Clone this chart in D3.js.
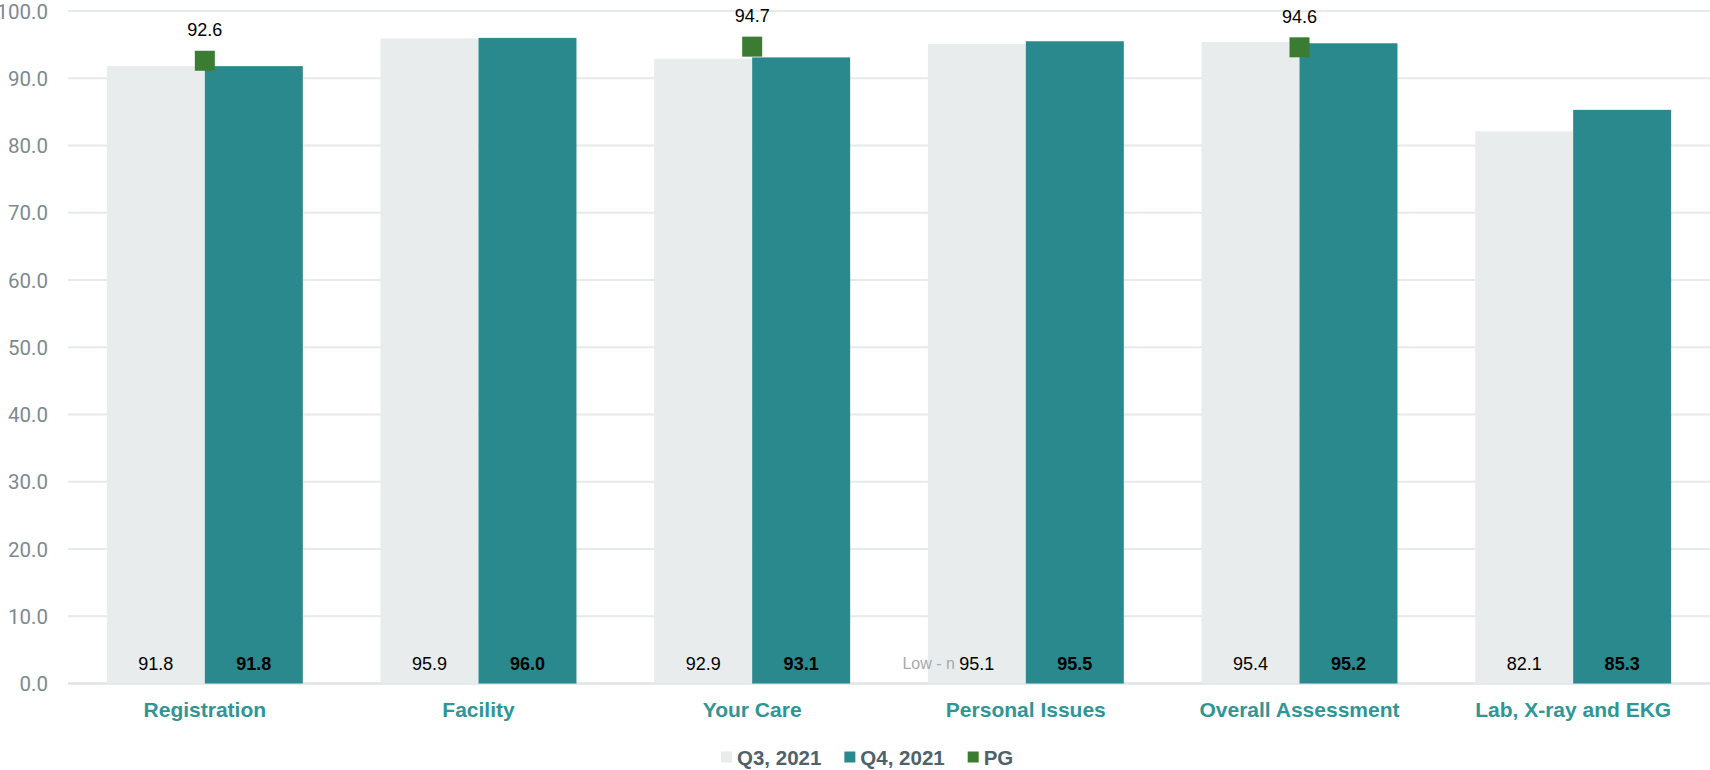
<!DOCTYPE html>
<html>
<head>
<meta charset="utf-8">
<script src="https://cdn.jsdelivr.net/npm/d3@7"></script>
<style>
  html, body { margin: 0; padding: 0; background: #fff; }
  svg { display: block; }
</style>
</head>
<body>
<svg id="chart" width="1710" height="770"></svg>
<script>
// Survey section scores by quarter, with the PG benchmark where available
const categories = ["Registration", "Facility", "Your Care", "Personal Issues", "Overall Assessment", "Lab, X-ray and EKG"];
const q3Values = [91.8, 95.9, 92.9, 95.1, 95.4, 82.1];
const q4Values = [91.8, 96.0, 93.1, 95.5, 95.2, 85.3];
const pgValues = [92.6, null, 94.7, null, 94.6, null];
const seriesNames = ["Q3, 2021", "Q4, 2021", "PG"];
const yTicks = [0, 10, 20, 30, 40, 50, 60, 70, 80, 90, 100];

const colors = { q3: "#e8ecec", q4: "#2a898d", pg: "#3a7d32" };

const svg = d3.select("#chart");
const plotLeft = 68, plotRight = 1710, plotTop = 11, plotBottom = 683.5;

const x = d3.scaleBand().domain(categories).range([plotLeft, plotRight])
  .paddingInner(0.284).paddingOuter(0.142);
const xs = d3.scaleBand().domain(["q3", "q4"]).range([0, x.bandwidth()]);
const y = d3.scaleLinear().domain([0, 100]).range([plotBottom, plotTop]);

// horizontal gridlines
svg.append("g").selectAll("line").data(yTicks).join("line")
  .attr("x1", plotLeft).attr("x2", plotRight)
  .attr("y1", d => y(d)).attr("y2", d => y(d))
  .attr("stroke", d => d === 0 ? "#dfe4e4" : "#e6eaea")
  .attr("stroke-width", d => d === 0 ? 2.5 : 2);

// y axis tick labels
const yAxis = d3.axisLeft(y).tickValues(yTicks).tickFormat(d3.format(".1f")).tickSize(0).tickPadding(0);
const gy = svg.append("g").attr("transform", "translate(48,0.5)").call(yAxis);
gy.select(".domain").remove();
gy.selectAll("text")
  .attr("font-family", "Roboto, sans-serif")
  .attr("font-weight", 400)
  .attr("font-size", 20.5)
  .attr("fill", "#7b8a92");

// bars
const groups = svg.append("g").selectAll("g").data(categories).join("g")
  .attr("transform", d => `translate(${x(d)},0)`);

groups.append("rect")
  .attr("x", xs("q3")).attr("width", xs.bandwidth())
  .attr("y", (d, i) => y(q3Values[i])).attr("height", (d, i) => y(0) - y(q3Values[i]))
  .attr("fill", colors.q3);

groups.append("rect")
  .attr("x", xs("q4")).attr("width", xs.bandwidth())
  .attr("y", (d, i) => y(q4Values[i])).attr("height", (d, i) => y(0) - y(q4Values[i]))
  .attr("fill", colors.q4);

// stray data label note
svg.append("text")
  .attr("x", x("Personal Issues") + xs("q3") + 27).attr("y", 669)
  .attr("text-anchor", "end")
  .attr("font-family", "Liberation Sans, Arial, sans-serif")
  .attr("font-size", 16)
  .attr("fill", "#a3abae")
  .text("Low - n");

// value labels inside the bars, near the base
groups.append("text")
  .attr("x", xs("q3") + xs.bandwidth() / 2).attr("y", 669.5)
  .attr("text-anchor", "middle")
  .attr("font-family", "Liberation Sans, Arial, sans-serif")
  .attr("font-size", 18)
  .attr("fill", "#000")
  .text((d, i) => q3Values[i].toFixed(1));

groups.append("text")
  .attr("x", xs("q4") + xs.bandwidth() / 2).attr("y", 669.5)
  .attr("text-anchor", "middle")
  .attr("font-family", "Liberation Sans, Arial, sans-serif")
  .attr("font-size", 18)
  .attr("font-weight", "bold")
  .attr("fill", "#000")
  .text((d, i) => q4Values[i].toFixed(1));

// PG markers with labels above
const pgData = categories.map((c, i) => ({ c, v: pgValues[i] })).filter(d => d.v != null);
const cx = d => x(d.c) + x.bandwidth() / 2;
svg.append("g").selectAll("rect").data(pgData).join("rect")
  .attr("x", d => cx(d) - 10).attr("y", d => y(d.v) - 10)
  .attr("width", 20).attr("height", 20)
  .attr("fill", colors.pg);
svg.append("g").selectAll("text").data(pgData).join("text")
  .attr("x", cx).attr("y", d => y(d.v) - 24.5)
  .attr("text-anchor", "middle")
  .attr("font-family", "Liberation Sans, Arial, sans-serif")
  .attr("font-size", 18)
  .attr("fill", "#000")
  .text(d => d.v.toFixed(1));

// category labels
svg.append("g").selectAll("text").data(categories).join("text")
  .attr("x", d => x(d) + x.bandwidth() / 2).attr("y", 717)
  .attr("text-anchor", "middle")
  .attr("font-family", "Liberation Sans, Arial, sans-serif")
  .attr("font-size", 21)
  .attr("font-weight", "bold")
  .attr("fill", "#2e9696")
  .text(d => d);

// legend
const legendColors = [colors.q3, colors.q4, colors.pg];
const legend = svg.append("g");
let lx = 721;
seriesNames.forEach((name, i) => {
  legend.append("rect").attr("x", lx).attr("y", 751.5).attr("width", 11).attr("height", 11)
    .attr("fill", legendColors[i]);
  const t = legend.append("text").attr("x", lx + 16).attr("y", 765)
    .attr("font-family", "Liberation Sans, Arial, sans-serif")
    .attr("font-size", 20.5).attr("font-weight", "bold")
    .attr("fill", "#4f616b").text(name);
  lx += 16 + t.node().getComputedTextLength() + 23;
});
</script>
</body>
</html>
